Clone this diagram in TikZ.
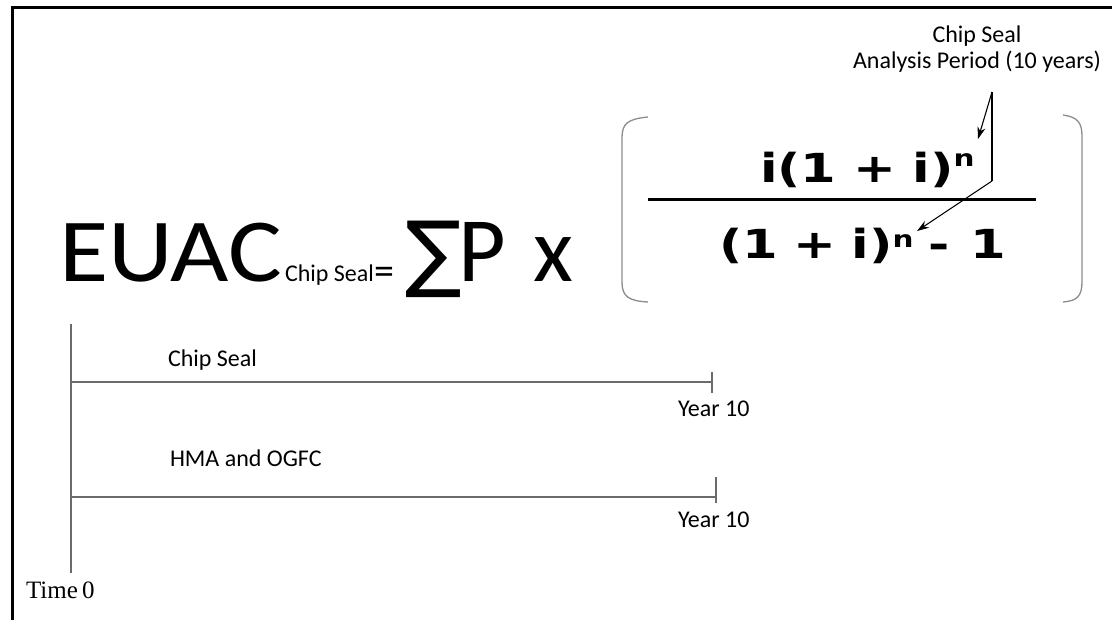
\documentclass[tikz,border=0pt]{standalone}
\usepackage{fontspec}
\setmainfont{Carlito}
\newfontfamily\djb{DejaVu Sans}
\newfontfamily\djbold{DejaVu Sans Bold}
\newfontfamily\tms{Liberation Serif}
\usetikzlibrary{arrows.meta}
\newcommand{\supn}[1]{\raisebox{#1}{\fontsize{23}{24}\selectfont n}}
\begin{document}
\begin{tikzpicture}[x=1pt,y=-1pt,
  txt/.style={inner sep=0pt,outer sep=0pt,anchor=base west},
  frame/.style={line width=3pt,black},
  tl/.style={line width=1.6pt,black!58},
  brk/.style={line width=1.3pt,black!45},
  ann/.style={line width=1.1pt,black,-{Stealth[length=12pt,width=8pt]}},
  fz/.style={font=\fontsize{24}{28}\selectfont},
  frac/.style={txt,font=\djbold\fontsize{40}{44}\selectfont}]
\useasboundingbox (0,0) rectangle (1112,620);
% frame
\coordinate (fr1) at (12,620);
\coordinate (fr2) at (12,8);
\coordinate (fr3) at (1112,8);
\draw[frame] (fr1) -- (fr2) -- (fr3);
% equation
\node[txt,font=\fontsize{90}{100}\selectfont] (euac) at (59,282) {\scalebox{1.12}[1]{EUAC}};
\node[txt,fz] (sub) at (285,282) {Chip Seal};
\node[txt,font=\fontsize{40}{44}\selectfont] (eq) at (374,285) {=};
\node[txt,font=\djb\fontsize{84}{86}\selectfont] (sum) at (405,282) {∑};
\node[txt,font=\fontsize{92}{100}\selectfont] (p) at (458,282) {P};
\node[txt,font=\fontsize{92}{100}\selectfont] (x) at (533,282) {x};
% brackets
\coordinate (lb1) at (648,117);
\coordinate (lb2) at (648,302);
\coordinate (rb1) at (1063,115);
\coordinate (rb2) at (1063,302);
\draw[brk] (lb1) .. controls (627,119) and (622,124) .. (622,138) -- (622,282) .. controls (622,296) and (628,301) .. (lb2);
\draw[brk] (rb1) .. controls (1077,117) and (1082,122) .. (1082,136) -- (1082,282) .. controls (1082,296) and (1077,301) .. (rb2);
% fraction
\node[frac] (num) at (760,183) {\scalebox{1.28}[1]{i(1\hspace{13pt}+\hspace{13pt}i)\supn{16pt}}};
\coordinate (fb1) at (648,200);
\coordinate (fb2) at (1036,200);
\draw[line width=3pt] (fb1) -- (fb2);
\node[frac] (den) at (719,259) {\scalebox{1.28}[1]{(1\hspace{12pt}+\hspace{12pt}i)\supn{11pt}\hspace{12pt}-\hspace{16pt}1}};
% annotation
\node[txt,fz,anchor=base] (cs) at (977,43) {Chip Seal};
\node[txt,fz,anchor=base] (ap) at (977,69) {Analysis Period (10 years)};
\coordinate (a1) at (992,92);
\coordinate (a2) at (992,181);
\coordinate (t1) at (978,139);
\coordinate (t2) at (917,231);
\draw[line width=1.1pt] (a1) -- (a2);
\draw[ann] (a1) -- (t1);
\draw[ann] (a2) -- (t2);
% timeline
\coordinate (v1) at (71,324);
\coordinate (v2) at (71,573);
\coordinate (h1) at (71,382);
\coordinate (h1e) at (712,382);
\coordinate (k1a) at (712,372);
\coordinate (k1b) at (712,393);
\coordinate (h2) at (71,497);
\coordinate (h2e) at (716,497);
\coordinate (k2a) at (716,477);
\coordinate (k2b) at (716,503);
\draw[tl] (v1) -- (v2);
\draw[tl] (h1) -- (h1e);
\draw[tl] (k1a) -- (k1b);
\draw[tl] (h2) -- (h2e);
\draw[tl] (k2a) -- (k2b);
\node[txt,fz] (lcs) at (168,367) {Chip Seal};
\node[txt,fz] (y1) at (678,417) {Year 10};
\node[txt,fz] (lhma) at (170,466) {HMA and OGFC};
\node[txt,fz] (y2) at (678,527) {Year 10};
\node[txt,font=\tms\fontsize{25}{28}\selectfont] (t0) at (26,598) {Time\,0};
\end{tikzpicture}
\end{document}
